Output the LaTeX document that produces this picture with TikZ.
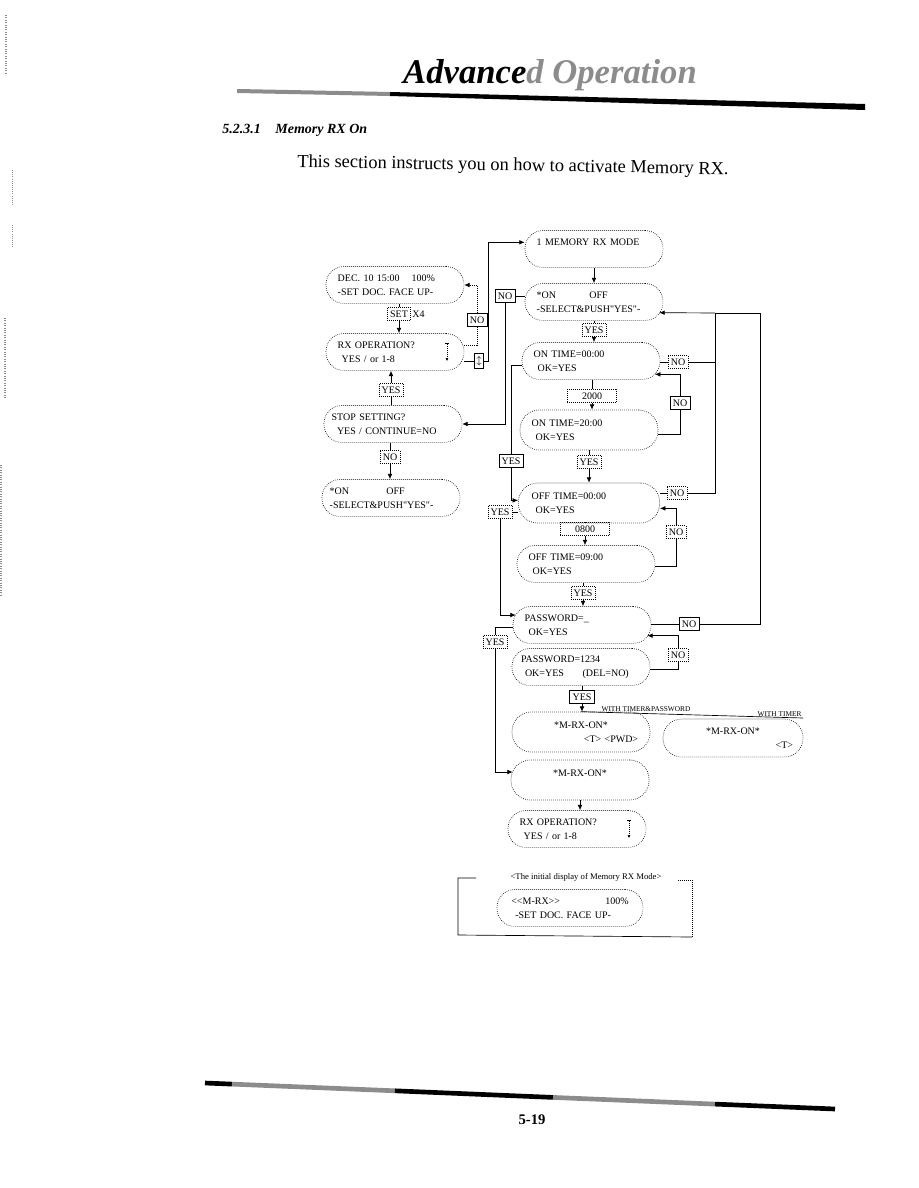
\documentclass[tikz,border=0pt]{standalone}
\usepackage{fontspec}
\setmainfont{Liberation Serif}
\usetikzlibrary{arrows.meta,calc}
\newcommand\dispfont{\fontsize{7.5}{10.5}\selectfont}
\newcommand\keyfont{\fontsize{7.5}{9}\selectfont}
\newcommand\tinyfont{\fontsize{5.5}{6.5}\selectfont}
\newcommand\dq{\textquotedbl}
\definecolor{stip}{gray}{0.55}
\tikzset{
 disp/.style={draw, densely dotted, line width=0.5pt, rectangle, rounded corners=13.5pt,
   minimum width=103.5pt, minimum height=27.75pt, text width=86pt, align=left,
   inner sep=0pt, font=\dispfont},
 tall/.style={minimum height=30pt, rounded corners=14.5pt},
 keybox/.style={draw, solid, line width=0.5pt, rectangle, inner xsep=2pt, inner ysep=1.2pt,
   minimum height=10pt, font=\keyfont},
 dkey/.style={keybox, densely dotted},
 conn/.style={line width=0.5pt},
 arr/.style={conn, -{Latex[length=4pt,width=3.5pt]}},
 updn/.style={conn, densely dotted, {Bar[width=2.5pt]}-{Latex[length=2.5pt,width=2.2pt]}},
}
\begin{document}
\begin{tikzpicture}[x=0.75pt,y=-0.75pt]
\useasboundingbox (0,0) rectangle (918,1188);

% margin marks
\draw[stip, densely dotted, line width=0.8pt] (6,15) -- (6,75);
\draw[stip, densely dotted, line width=0.6pt] (12,170) -- (12,205);
\draw[stip, densely dotted, line width=0.6pt] (12,225) -- (12,248);
\draw[stip, densely dotted, line width=0.8pt] (5,318) -- (5,398);
\draw[stip, densely dotted, line width=0.8pt] (1,465) -- (1,595);

% header
\node[anchor=base, inner sep=0pt, font=\fontsize{26}{30}\selectfont\bfseries\itshape] (title) at (550,84)
  {Advance\textcolor{stip}{d Operation}};
\fill[stip] (237,89) -- (390,92) -- (390,96) -- (237,93) -- cycle;
\fill[black] (390,92) -- (865,104) -- (865,110) -- (390,96) -- cycle;
\node[anchor=base west, inner sep=0pt, font=\fontsize{10.5}{12}\selectfont\bfseries\itshape] (sec) at (222,133)
  {5.2.3.1\hspace{11pt}Memory RX On};
\node[anchor=base west, inner sep=0pt, rotate=-1, font=\fontsize{13.8}{16}\selectfont] (intro) at (297,167)
  {This section instructs you on how to activate Memory RX.};

% footer
\draw[line width=3.5pt] (205,1083) -- (232,1084.1);
\draw[line width=3.5pt, stip] (232,1084.1) -- (395,1090.8);
\draw[line width=3.5pt] (395,1090.8) -- (553,1097.4);
\draw[line width=3.5pt, stip] (553,1097.4) -- (715,1104.1);
\draw[line width=3.5pt] (715,1104.1) -- (835,1109);
\node[font=\fontsize{11}{13}\selectfont\bfseries] (pg) at (532,1120) {5-19};

% ---------- left column
\node[disp] (L1) at (395,285) {DEC. 10 15:00\hspace{9pt}100\%\\-SET DOC. FACE UP-};
\node[disp] (L2) at (395,352) {RX OPERATION?\\\hspace*{3pt}YES / or 1-8};
\node[disp, text width=92pt] (L3) at (393,424) {STOP SETTING?\\\hspace*{4pt}YES / CONTINUE=NO};
\node[disp, text width=92pt] (L4) at (391,498) {*ON\hspace{28pt}OFF\\-SELECT\&PUSH\dq YES\dq-};
\draw[updn] ([xshift=-13pt,yshift=6.5pt]L2.east) -- ([xshift=-13pt,yshift=-7pt]L2.east);

\node[dkey] (SET) at (399,314) {SET};
\node[anchor=west, inner sep=1pt, font=\keyfont] (xfour) at (SET.east) {X4};
\node[keybox] (nL1) at (477,320) {NO};
\node[keybox, inner xsep=1.5pt, minimum height=11pt] (kUD) at (479,361) {\scriptsize$\updownarrow$};
\node[dkey] (yL) at (391,390) {YES};
\node[dkey] (nL3) at (390,457) {NO};

\draw[conn] (SET.north |- L1.south) -- (SET.north);
\draw[arr] (SET.south) -- (SET.south |- L2.north);
\draw[conn] (yL.south) -- (yL.south |- L3.north);
\draw[arr] (yL.north) -- (yL.north |- L2.south);
\draw[conn] (nL3.north |- L3.south) -- (nL3.north);
\draw[arr] (nL3.south) -- (nL3.south |- L4.north);
\draw[conn, densely dotted] ([yshift=5.25pt]L2.east) -| (nL1.south);
\draw[arr, densely dotted] (nL1.north) |- (L1.east);
\draw[conn] (kUD.west -| L2.east) -- (kUD.west);

% ---------- centre column
\node[disp] (C1) at (594,249) {1 MEMORY RX MODE\\\mbox{}};
\node[disp] (C2) at (594,302) {*ON\hspace{25pt}OFF\\-SELECT\&PUSH\dq YES\dq-};
\node[disp] (C3) at (591,361) {ON TIME=00:00\\\hspace*{3pt}OK=YES};
\node[disp, tall] (C4) at (589,430) {ON TIME=20:00\\\hspace*{3pt}OK=YES};
\node[disp, tall, minimum width=106pt] (C5) at (589,503) {OFF TIME=00:00\\\hspace*{3pt}OK=YES};
\node[disp] (C6) at (586,564) {OFF TIME=09:00\\\hspace*{3pt}OK=YES};
\node[disp] (C7) at (582,625) {PASSWORD=\_\\\hspace*{3pt}OK=YES};
\node[disp, text width=90pt] (C8) at (581,667) {PASSWORD=1234\\\hspace*{3pt}OK=YES\hspace{14pt}(DEL=NO)};
\node[disp, tall, align=center] (C9) at (581,732) {*M-RX-ON*\\\hspace*{45pt}<T> <PWD>};
\node[disp, minimum width=105pt, minimum height=28.5pt, rounded corners=14pt, text width=90pt, align=center] (C9b) at (733,738) {*M-RX-ON*\hspace*{3pt}\\\mbox{}\hfill<T>};
\node[disp, tall, align=center] (C10) at (580,780) {*M-RX-ON*\\\mbox{}};
\node[disp] (C11) at (577,829) {RX OPERATION?\\\hspace*{3pt}YES / or 1-8};
\draw[updn] ([xshift=-13pt,yshift=6.5pt]C11.east) -- ([xshift=-13pt,yshift=-7pt]C11.east);

\node[keybox] (nC2) at (505,296) {NO};
\node[dkey] (y1) at (594,330) {YES};
\node[dkey, minimum width=37pt] (k2000) at (592,396) {2000};
\node[dkey] (y2) at (589,462) {YES};
\node[dkey, minimum width=37pt] (k0800) at (585,529) {0800};
\node[dkey] (y3) at (583,593) {YES};
\node[keybox, line width=0.8pt] (y4) at (582,697) {YES};
\node[keybox] (yl1) at (511,461) {YES};
\node[dkey] (yl2) at (500,512) {YES};
\node[dkey] (yl3) at (495,642) {YES};
\node[dkey] (nC3) at (678,362) {NO};
\node[keybox] (nC4) at (680,403) {NO};
\node[dkey] (nC5) at (677,493) {NO};
\node[dkey] (nC6) at (676,532) {NO};
\node[keybox] (nC7) at (689,624) {NO};
\node[dkey] (nC8) at (678,655) {NO};

% link to left column
\draw[arr] (kUD.east) -- ++(4,0) |- ([yshift=5pt]C1.west);
\draw[conn] (nC2.east) -- (nC2.east -| C2.west);
\draw[arr] (nC2.south) |- (L3.east);

% main vertical flow
\draw[arr] (C1.south) -- (C2.north);
\draw[conn] (y1.north |- C2.south) -- (y1.north);
\draw[arr] (y1.south) -- (y1.south |- C3.north);
\draw[conn] (k2000.north |- C3.south) -- (k2000.north);
\draw[arr] (k2000.south) -- (k2000.south |- C4.north);
\draw[conn] (y2.north |- C4.south) -- (y2.north);
\draw[arr] (y2.south) -- (y2.south |- C5.north);
\draw[conn] (k0800.north |- C5.south) -- (k0800.north);
\draw[arr] (k0800.south) -- (k0800.south |- C6.north);
\draw[conn] (y3.north |- C6.south) -- (y3.north);
\draw[arr] (y3.south) -- (y3.south |- C7.north);
\draw[conn] (y4.north |- C8.south) -- (y4.north);
\draw[arr] (y4.south) -- (y4.south |- C9.north);
\draw[arr] (C10.south) -- (C10.south |- C11.north);

% YES branches on the left
\draw[conn] ([yshift=-3pt]C3.west) -| (yl1.north);
\draw[arr] (yl1.south) |- ([yshift=2pt]C5.west);
\draw[conn] (yl2.east) -- (yl2.east -| C5.west);
\draw[arr] (yl2.south) |- ([yshift=7.5pt,xshift=2.3pt]C7.west);
\draw[conn] ([yshift=-2pt]C7.west) -| (yl3.north);
\draw[arr] (yl3.south) |- ([yshift=6pt,xshift=1.5pt]C10.west);

% NO branches on the right
\coordinate (jIn) at (715,313);
\coordinate (jOut) at (760,313);
\draw[conn] (nC3.west -| C3.east) -- (nC3.west);
\draw[conn] (nC3.east) -| (jIn);
\draw[conn] (nC5.west -| C5.east) -- (nC5.west);
\draw[conn] (nC5.east) -| (jIn);
\draw[conn] (nC7.west -| C7.east) -- (nC7.west);
\draw[conn] (nC7.east) -| (jOut);
\draw[conn] (jOut) -- (jIn);
\draw[arr] (jIn) -- ([yshift=-8pt,xshift=-3pt]C2.east);
\draw[conn] ([yshift=-3pt]C4.east) -| (nC4.south);
\draw[arr] (nC4.north) |- ([yshift=-10pt,xshift=-4pt]C3.east);
\draw[conn] ([yshift=-2pt]C6.east) -| (nC6.south);
\draw[arr] (nC6.north) |- ([yshift=-4pt]C5.east);
\draw[conn] ([yshift=-1.5pt]C8.east) -| (nC8.south);
\draw[arr] (nC8.north) |- ([yshift=-8pt,xshift=-3pt]C7.east);

% timer labels
\node[anchor=south west, inner sep=1pt, font=\tinyfont] (wtp) at (600,713) {WITH TIMER\&PASSWORD};
\node[anchor=south east, inner sep=1pt, font=\tinyfont] (wt) at (803,718) {WITH TIMER};
\draw[conn] (C9.north) -- (wt.south east);

% legend
\node[font=\fontsize{6.5}{8}\selectfont, inner sep=1pt] (LT) at (586,877) {<The initial display of Memory RX Mode>};
\draw[conn] (476,878) -- (458,878) -- (458,935) -- (692,937);
\draw[conn, densely dotted] (692,937) -- (692,880) -- (678,880);
\node[disp, minimum width=109.5pt, text width=88pt] (Leg) at (570,908) {<{}<M-RX>{}>\hfill 100\%\hspace*{8pt}\\\hspace*{3pt}-SET DOC. FACE UP-};
\end{tikzpicture}
\end{document}
